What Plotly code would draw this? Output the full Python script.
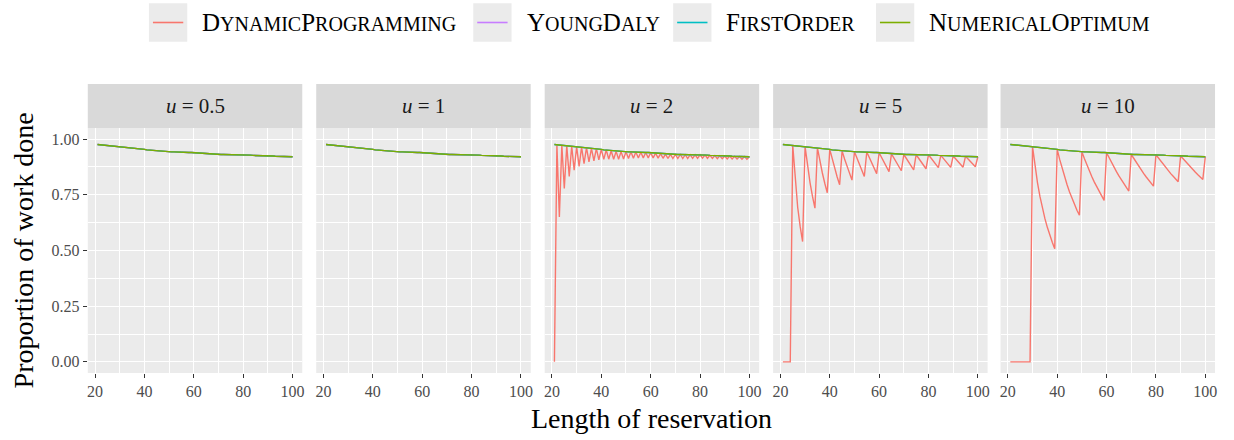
import plotly.graph_objects as go

# ---------------- data ----------------
reservation_length = list(range(21, 101))

numerical_optimum = [
    0.976, 0.975, 0.974, 0.973, 0.972, 0.971, 0.970, 0.969, 0.968, 0.966,
    0.965, 0.964, 0.963, 0.962, 0.961, 0.959, 0.958, 0.957, 0.955, 0.954,
    0.952, 0.951, 0.950, 0.948, 0.947, 0.945, 0.945, 0.944, 0.944, 0.943,
    0.943, 0.943, 0.942, 0.942, 0.942, 0.941, 0.941, 0.940, 0.940, 0.939,
    0.938, 0.937, 0.936, 0.935, 0.934, 0.933, 0.932, 0.932, 0.931, 0.931,
    0.931, 0.931, 0.931, 0.930, 0.930, 0.930, 0.930, 0.930, 0.930, 0.930,
    0.929, 0.929, 0.928, 0.927, 0.927, 0.926, 0.926, 0.925, 0.925, 0.924,
    0.924, 0.924, 0.923, 0.923, 0.923, 0.922, 0.922, 0.922, 0.921, 0.921,
]
young_daly = list(numerical_optimum)
first_order = list(numerical_optimum)

dp_u05 = list(numerical_optimum)
dp_u1 = list(numerical_optimum)
dp_u2 = [
    0.000, 0.975, 0.650, 0.973, 0.778, 0.971, 0.832, 0.969, 0.861, 0.966,
    0.878, 0.964, 0.890, 0.962, 0.898, 0.959, 0.903, 0.957, 0.907, 0.954,
    0.909, 0.951, 0.910, 0.948, 0.910, 0.945, 0.910, 0.944, 0.911, 0.943,
    0.913, 0.943, 0.914, 0.942, 0.915, 0.941, 0.916, 0.940, 0.916, 0.939,
    0.916, 0.937, 0.915, 0.935, 0.914, 0.933, 0.913, 0.932, 0.913, 0.931,
    0.913, 0.931, 0.913, 0.930, 0.913, 0.930, 0.914, 0.930, 0.914, 0.930,
    0.915, 0.929, 0.914, 0.927, 0.913, 0.926, 0.912, 0.925, 0.912, 0.924,
    0.911, 0.924, 0.911, 0.923, 0.911, 0.922, 0.910, 0.922, 0.910, 0.921,
]
dp_u5 = [
    0.000, 0.000, 0.000, 0.000, 0.972, 0.810, 0.694, 0.608, 0.540, 0.966,
    0.878, 0.805, 0.743, 0.690, 0.961, 0.901, 0.848, 0.801, 0.759, 0.954,
    0.909, 0.867, 0.830, 0.795, 0.947, 0.911, 0.877, 0.846, 0.816, 0.943,
    0.913, 0.884, 0.857, 0.832, 0.942, 0.916, 0.891, 0.868, 0.845, 0.939,
    0.916, 0.894, 0.873, 0.854, 0.934, 0.914, 0.894, 0.876, 0.858, 0.931,
    0.913, 0.895, 0.878, 0.862, 0.930, 0.913, 0.897, 0.882, 0.867, 0.930,
    0.915, 0.900, 0.886, 0.872, 0.927, 0.913, 0.899, 0.886, 0.873, 0.924,
    0.911, 0.898, 0.886, 0.874, 0.923, 0.911, 0.899, 0.888, 0.876, 0.921,
]
dp_u10 = [
    0.000, 0.000, 0.000, 0.000, 0.000, 0.000, 0.000, 0.000, 0.000, 0.966,
    0.878, 0.805, 0.743, 0.690, 0.644, 0.604, 0.568, 0.537, 0.508, 0.954,
    0.909, 0.867, 0.830, 0.795, 0.763, 0.734, 0.707, 0.681, 0.658, 0.943,
    0.913, 0.884, 0.857, 0.832, 0.808, 0.786, 0.765, 0.744, 0.725, 0.939,
    0.916, 0.894, 0.873, 0.854, 0.835, 0.817, 0.799, 0.783, 0.767, 0.931,
    0.913, 0.895, 0.878, 0.862, 0.846, 0.831, 0.817, 0.803, 0.789, 0.930,
    0.915, 0.900, 0.886, 0.872, 0.858, 0.845, 0.833, 0.821, 0.809, 0.924,
    0.911, 0.898, 0.886, 0.874, 0.862, 0.851, 0.840, 0.829, 0.819, 0.921,
]

u_labels = ["0.5", "1", "2", "5", "10"]
dp_by_panel = [dp_u05, dp_u1, dp_u2, dp_u5, dp_u10]

series_names = ["DynamicProgramming", "YoungDaly", "FirstOrder", "NumericalOptimum"]
SC = "<span style='font-size:20px'>{}</span>"
legend_html = [
    "D" + SC.format("YNAMIC") + "P" + SC.format("ROGRAMMING"),
    "Y" + SC.format("OUNG") + "D" + SC.format("ALY"),
    "F" + SC.format("IRST") + "O" + SC.format("RDER"),
    "N" + SC.format("UMERICAL") + "O" + SC.format("PTIMUM"),
]
colors = ["#F8766D", "#C77CFF", "#00BFC4", "#7CAE00"]

y_ticks = [0, 0.25, 0.5, 0.75, 1.0]
y_ticktext = ["0.00", "0.25", "0.50", "0.75", "1.00"]
x_ticks = [20, 40, 60, 80, 100]

# ---------------- layout geometry (page pixels; body margin removed) ----------------
W, H = 1234, 440
FONT = "Liberation Serif"


def px(xp):
    return xp / W


def py(yp):
    return 1 - yp / H


panel_left = [87, 316, 545, 774, 1002]
panel_w = 215
plot_top, plot_bottom = 128, 373
strip_top = 84

fig = go.Figure()

for i in range(5):
    ax = "" if i == 0 else str(i + 1)
    series = [dp_by_panel[i], young_daly, first_order, numerical_optimum]
    for name, vals, col in zip(series_names, series, colors):
        fig.add_trace(go.Scatter(
            x=reservation_length, y=vals, mode="lines", name=name,
            line=dict(color=col, width=1.4), showlegend=False,
            xaxis="x" + ax, yaxis="y" + ax,
        ))

    dom = [px(panel_left[i]), px(panel_left[i] + panel_w)]
    fig.layout["xaxis" + ax] = dict(
        domain=dom, range=[17.05, 103.95], anchor="y" + ax,
        tickvals=x_ticks, ticks="outside", ticklen=4, tickcolor="#333333",
        tickfont=dict(family=FONT, size=16, color="#4D4D4D"),
        showgrid=True, gridcolor="white", gridwidth=1.1, zeroline=False,
        showline=False,
        minor=dict(dtick=10, tick0=0, showgrid=True, gridcolor="white", gridwidth=0.5, ticks=""),
    )
    fig.layout["yaxis" + ax] = dict(
        domain=[py(plot_bottom), py(plot_top)], range=[-0.05, 1.05],
        anchor="x" + ax,
        tickvals=y_ticks, ticktext=y_ticktext,
        ticks="outside" if i == 0 else "", ticklen=4, tickcolor="#333333",
        showticklabels=(i == 0),
        tickfont=dict(family=FONT, size=16, color="#4D4D4D"),
        showgrid=True, gridcolor="white", gridwidth=1.1, zeroline=False,
        showline=False,
        minor=dict(dtick=0.125, tick0=0, showgrid=True, gridcolor="white", gridwidth=0.5, ticks=""),
    )

shapes = []
annotations = []
# strips
for i in range(5):
    x0 = px(panel_left[i])
    x1 = px(panel_left[i] + panel_w)
    shapes.append(dict(type="rect", xref="paper", yref="paper",
                       x0=x0, x1=x1, y0=py(plot_top), y1=py(strip_top),
                       fillcolor="#D9D9D9", line=dict(width=0), layer="below"))
    annotations.append(dict(xref="paper", yref="paper", x=(x0 + x1) / 2,
                            y=py((strip_top + plot_top) / 2),
                            text="<i>u</i> = " + u_labels[i], showarrow=False,
                            xanchor="center", yanchor="middle",
                            font=dict(family=FONT, size=21, color="#1A1A1A")))

# custom legend (ggplot-like keys)
key_left = [148.3, 473.4, 673.8, 877.1]
key_size = 38.4
key_top = 3.3
for lft, html, col in zip(key_left, legend_html, colors):
    shapes.append(dict(type="rect", xref="paper", yref="paper",
                       x0=px(lft), x1=px(lft + key_size),
                       y0=py(key_top + key_size), y1=py(key_top),
                       fillcolor="#EBEBEB", line=dict(width=0)))
    ymid = py(key_top + key_size / 2)
    shapes.append(dict(type="line", xref="paper", yref="paper",
                       x0=px(lft + 4), x1=px(lft + key_size - 4), y0=ymid, y1=ymid,
                       line=dict(color=col, width=1.6)))
    annotations.append(dict(xref="paper", yref="paper", x=px(lft + key_size + 13), y=ymid,
                            text=html, showarrow=False, xanchor="left", yanchor="middle",
                            font=dict(family=FONT, size=25, color="black")))

# axis titles
annotations.append(dict(xref="paper", yref="paper", x=px((87 + 1217) / 2), y=py(418),
                        text="Length of reservation", showarrow=False,
                        xanchor="center", yanchor="middle",
                        font=dict(family=FONT, size=28, color="black")))
annotations.append(dict(xref="paper", yref="paper", x=px(23), y=py((plot_top + plot_bottom) / 2),
                        text="Proportion of work done", showarrow=False, textangle=-90,
                        xanchor="center", yanchor="middle",
                        font=dict(family=FONT, size=28, color="black")))

fig.update_layout(
    width=W, height=H, margin=dict(l=0, r=0, t=0, b=0),
    paper_bgcolor="white", plot_bgcolor="#EBEBEB",
    shapes=shapes, annotations=annotations, showlegend=False,
    font=dict(family=FONT),
)

fig.write_html(
    "out.html",
    config={"displayModeBar": False},
    post_script="document.body.style.margin='0';document.body.style.overflow='hidden';",
)
